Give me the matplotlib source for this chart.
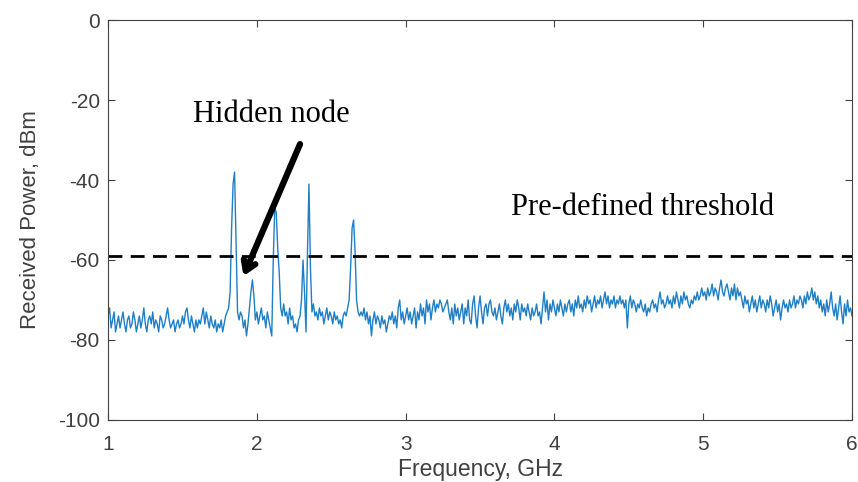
import numpy as np
import matplotlib.pyplot as plt

plt.rcParams['axes.unicode_minus'] = False

# received power (dBm) sampled every 0.01 GHz from 1 to 6 GHz
power = [
    -74, -72, -77, -75, -73, -78, -76, -74, -77, -75,
    -73, -76, -78, -75, -74, -77, -76, -73, -75, -78,
    -76, -74, -77, -75, -72, -76, -78, -75, -74, -76,
    -73, -77, -75, -76, -78, -74, -75, -77, -76, -74,
    -72, -75, -77, -76, -75, -78, -76, -75, -77, -76,
    -74, -76, -73, -72, -75, -77, -74, -76, -78, -75,
    -77, -75, -76, -74, -72, -76, -73, -75, -77, -74,
    -76, -77, -75, -78, -76, -77, -75, -78, -76, -74,
    -73, -72, -68, -52, -41, -38, -56, -73, -75, -73,
    -74, -77, -75, -79, -76, -72, -68, -65, -69, -75,
    -73, -76, -74, -72, -75, -74, -77, -73, -75, -77,
    -79, -60, -47, -48, -57, -63, -72, -74, -71, -74,
    -73, -76, -72, -75, -74, -77, -76, -78, -75, -74,
    -70, -60, -68, -78, -58, -41, -62, -73, -71, -74,
    -73, -75, -72, -74, -73, -76, -74, -72, -75, -73,
    -74, -76, -73, -75, -74, -76, -75, -77, -74, -73,
    -74, -72, -70, -62, -52, -50, -58, -70, -73, -74,
    -73, -74, -72, -75, -73, -76, -74, -79, -75, -73,
    -76, -74, -75, -77, -74, -76, -75, -78, -76, -74,
    -75, -73, -76, -74, -77, -72, -70, -75, -73, -76,
    -74, -72, -75, -73, -76, -74, -72, -77, -73, -75,
    -71, -74, -72, -76, -70, -73, -71, -75, -72, -70,
    -73, -71, -72, -70, -71, -73, -72, -71, -70, -73,
    -75, -72, -76, -71, -74, -72, -75, -73, -71, -76,
    -72, -74, -70, -75, -76, -71, -69, -74, -77, -72,
    -69, -73, -76, -72, -71, -74, -71, -70, -73, -74,
    -72, -75, -73, -71, -74, -76, -72, -70, -73, -71,
    -74, -72, -75, -71, -73, -70, -72, -75, -71, -73,
    -72, -74, -71, -73, -75, -72, -74, -73, -71, -74,
    -73, -76, -72, -68, -73, -70, -75, -71, -73, -70,
    -72, -74, -71, -73, -70, -72, -74, -71, -73, -71,
    -70, -73, -71, -74, -70, -72, -69, -72, -71, -73,
    -70, -72, -69, -71, -70, -73, -71, -69, -72, -70,
    -71, -69, -72, -70, -68, -71, -69, -72, -70, -71,
    -69, -72, -70, -71, -69, -71, -70, -72, -70, -77,
    -71, -69, -72, -70, -71, -73, -71, -72, -70, -72,
    -73, -71, -74, -72, -73, -71, -70, -72, -71, -73,
    -70, -68, -71, -70, -72, -71, -69, -71, -70, -72,
    -69, -71, -68, -70, -72, -69, -71, -68, -70, -69,
    -71, -72, -70, -71, -69, -70, -68, -70, -69, -67,
    -69, -68, -70, -67, -69, -68, -66, -69, -67, -68,
    -70, -67, -65, -68, -69, -67, -66, -68, -70, -67,
    -69, -66, -70, -67, -69, -68, -70, -72, -69, -71,
    -70, -73, -71, -69, -72, -70, -73, -71, -69, -72,
    -70, -71, -73, -70, -72, -69, -71, -74, -72, -70,
    -73, -71, -75, -72, -70, -72, -71, -73, -70, -72,
    -71, -69, -72, -70, -71, -69, -70, -72, -69, -71,
    -68, -70, -69, -67, -70, -68, -71, -69, -72, -70,
    -73, -71, -74, -70, -73, -71, -68, -72, -74, -71,
    -75, -72, -69, -73, -76, -71, -74, -70, -73, -72,
    -74,
]
freq = np.linspace(1, 6, len(power))

threshold = -59
x_ticks = [1, 2, 3, 4, 5, 6]
y_ticks = [-100, -80, -60, -40, -20, 0]

fig = plt.figure(figsize=(8.58, 4.82), dpi=100)
ax = fig.add_axes([0.126, 0.129, 0.867, 0.829])

ax.plot(freq, power, color='#1f7fc4', lw=1.0)
ax.axhline(threshold, color='black', lw=2, ls=(0, (5, 3)))

ax.set_xlim(1, 6)
ax.set_ylim(-100, 0)
ax.set_xticks(x_ticks)
ax.set_yticks(y_ticks)
ax.tick_params(direction='in', top=True, right=True, length=5,
               labelsize=15, colors='#404040', pad=6)
ax.tick_params(axis='x', pad=11)
for lab in ax.get_xticklabels() + ax.get_yticklabels():
    lab.set_family('Liberation Sans')
for s in ax.spines.values():
    s.set_color('#404040')

ax.set_xlabel('Frequency, GHz', fontsize=16.5, color='#404040', family='Liberation Sans', labelpad=3)
ax.set_ylabel('Received Power, dBm', fontsize=16, color='#404040', family='Liberation Sans', labelpad=12)

ax.text(2.10, -23.5, 'Hidden node', fontsize=22, family='Liberation Serif',
        ha='center', va='center')
ax.text(4.59, -46.8, 'Pre-defined threshold', fontsize=22, family='Liberation Serif',
        ha='center', va='center')
ax.annotate('', xy=(1.91, -64), xytext=(2.29, -31),
            arrowprops=dict(arrowstyle='->,head_length=0.7,head_width=0.45',
                            color='black', lw=4.5, shrinkA=0, shrinkB=0))

fig.savefig('out.png', dpi=100)
